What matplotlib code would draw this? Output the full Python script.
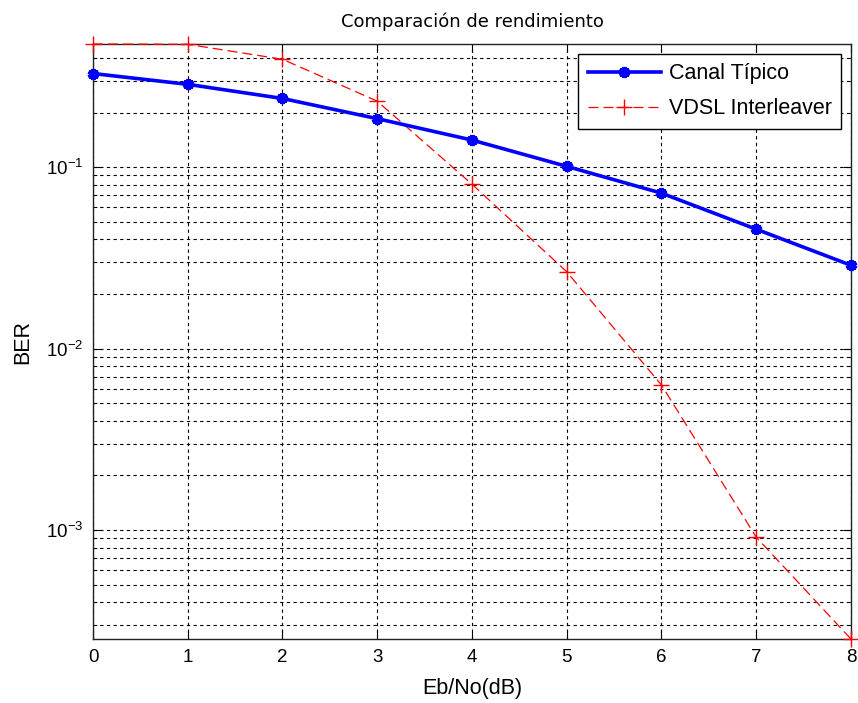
import matplotlib.pyplot as plt
from matplotlib.ticker import LogLocator, NullFormatter, FixedLocator

plt.rcParams['font.family'] = ['Liberation Sans', 'DejaVu Sans']

ebno = [0, 1, 2, 3, 4, 5, 6, 7, 8]
ber_tipico = [0.328, 0.286, 0.239, 0.185, 0.141, 0.101, 0.0719, 0.0455, 0.0288]
ber_vdsl = [0.477, 0.475, 0.393, 0.231, 0.0805, 0.0265, 0.0063, 0.000914, 0.000251]

fig = plt.figure(figsize=(8.58, 7.03), dpi=100)
ax = fig.add_axes([0.1084, 0.091, 0.8834, 0.8464])

ax.semilogy(ebno, ber_tipico, color='blue', linewidth=2.6, marker=(6, 2, 0),
            markersize=8, markeredgewidth=3, label='Canal Típico',
            clip_on=False, zorder=4)
ax.semilogy(ebno, ber_vdsl, color='red', linewidth=0.9, marker='+',
            markersize=11, markeredgewidth=1.0, dashes=(8, 4),
            label='VDSL Interleaver', clip_on=False, zorder=3)

ax.set_xlim(0, 8)
ax.set_ylim(min(ber_vdsl), max(ber_vdsl))
ax.xaxis.set_major_locator(FixedLocator(ebno))
ax.yaxis.set_major_locator(LogLocator(base=10, numticks=10))
ax.yaxis.set_minor_locator(LogLocator(base=10, subs=range(2, 10), numticks=20))
ax.yaxis.set_minor_formatter(NullFormatter())

# rejilla punteada estilo MATLAB
ax.grid(True, which='major', color='black', linestyle=(0, (3, 3)), linewidth=0.8)
ax.grid(True, which='minor', axis='y', color='black', linestyle=(0, (3, 3)), linewidth=0.8)
ax.tick_params(which='both', direction='in', top=True, right=True, labelsize=13.5)
ax.tick_params(which='major', length=6, pad=7)
ax.tick_params(which='minor', length=3)
for s in ax.spines.values():
    s.set_linewidth(1.0)
    s.set_color('#222222')

ax.set_title('Comparación de rendimiento', fontsize=13, pad=12,
             family=['DejaVu Sans'])
ax.set_xlabel('Eb/No(dB)', fontsize=15.5, labelpad=9)
ax.set_ylabel('BER', fontsize=15.5, labelpad=9)

leg = ax.legend(loc='upper right', fontsize=15.5, fancybox=False,
                edgecolor='black', framealpha=1, borderaxespad=0.45,
                handlelength=3.4, labelspacing=0.65, borderpad=0.45,
                handletextpad=0.35)
leg.get_frame().set_linewidth(1.0)

fig.savefig('out.png', dpi=100)
